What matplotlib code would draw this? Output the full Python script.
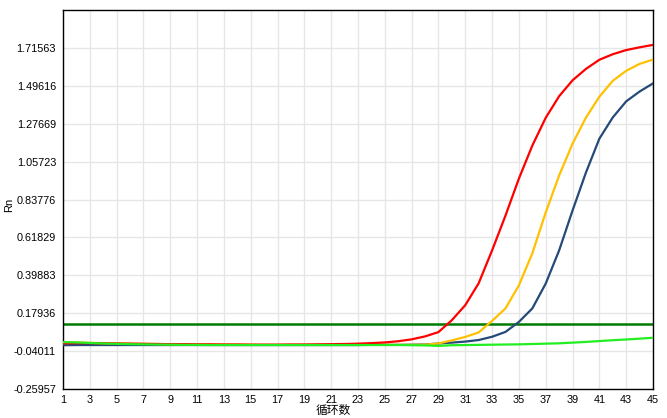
import matplotlib.pyplot as plt
import numpy as np

plt.rcParams['font.family'] = ['Liberation Sans', 'Noto Sans CJK SC', 'DejaVu Sans']

cycles = list(range(1, 46))

red = [0.005, 0.006, 0.006, 0.005, 0.004, 0.003, 0.002, 0.001, 0.000, 0.000,
       -0.001, -0.001, -0.002, -0.002, -0.003, -0.003, -0.003, -0.002, -0.002, -0.001,
       0.000, 0.001, 0.003, 0.006, 0.010, 0.017, 0.028, 0.045, 0.070, 0.139,
       0.226, 0.353, 0.543, 0.745, 0.959, 1.150, 1.311, 1.436, 1.528, 1.594,
       1.647, 1.679, 1.703, 1.719, 1.733]

yellow = [0.012, 0.010, 0.008, 0.006, 0.004, 0.003, 0.002, 0.001, 0.000, -0.001,
          -0.001, -0.002, -0.002, -0.003, -0.003, -0.004, -0.004, -0.004, -0.004, -0.004,
          -0.004, -0.004, -0.004, -0.004, -0.004, -0.004, -0.004, -0.003, 0.004, 0.022,
          0.042, 0.068, 0.135, 0.207, 0.341, 0.526, 0.763, 0.977, 1.161, 1.312,
          1.433, 1.525, 1.583, 1.623, 1.648]

blue = [-0.006, -0.005, -0.005, -0.005, -0.005, -0.005, -0.005, -0.005, -0.005, -0.005,
        -0.005, -0.005, -0.005, -0.005, -0.005, -0.005, -0.005, -0.005, -0.005, -0.005,
        -0.005, -0.005, -0.005, -0.004, -0.004, -0.004, -0.003, -0.002, 0.004, 0.009,
        0.015, 0.024, 0.043, 0.071, 0.129, 0.207, 0.351, 0.543, 0.774, 0.994,
        1.190, 1.313, 1.406, 1.463, 1.510]

green = [0.012, 0.010, 0.007, 0.004, 0.002, 0.000, -0.001, -0.002, -0.003, -0.004,
         -0.004, -0.005, -0.005, -0.005, -0.005, -0.005, -0.005, -0.005, -0.005, -0.005,
         -0.005, -0.005, -0.005, -0.005, -0.005, -0.005, -0.006, -0.007, -0.010, -0.006,
         -0.005, -0.004, -0.003, -0.002, -0.001, 0.001, 0.003, 0.005, 0.009, 0.013,
         0.018, 0.023, 0.027, 0.032, 0.037]

threshold = 0.118

yticks = [-0.25957, -0.04011, 0.17936, 0.39883, 0.61829, 0.83776,
          1.05723, 1.27669, 1.49616, 1.71563]
xticks = list(range(1, 46, 2))

fig = plt.figure(figsize=(6.67, 4.18), dpi=100)
ax = fig.add_axes([63 / 667, 29 / 418, 590 / 667, 379 / 418])

ax.axhline(threshold, color='#007A00', lw=1.8, zorder=2)
ax.plot(cycles, blue, color='#254A78', lw=1.6, zorder=3)
ax.plot(cycles, yellow, color='#FFC000', lw=1.6, zorder=3)
ax.plot(cycles, red, color='#FF0000', lw=1.6, zorder=3)
ax.plot(cycles, green, color='#22EE22', lw=1.6, zorder=3)

ax.set_xlim(1, 45)
ax.set_ylim(-0.25957, 1.9351)
ax.set_xticks(xticks)
ax.set_yticks(yticks)
ax.set_yticklabels([f'{v:.5f}' for v in yticks])
ax.tick_params(length=0, labelsize=7.8, colors='black')
ax.tick_params(axis='y', pad=5)
ax.tick_params(axis='x', pad=4)
ax.grid(True, color='#E6E6E6', lw=1, zorder=0)
ax.set_axisbelow(True)
for s in ax.spines.values():
    s.set_color('black')
    s.set_linewidth(1)

ax.set_ylabel('Rn', fontsize=8)
ax.yaxis.set_label_coords(-0.083, 0.485)
ax.set_xlabel('循环数', fontsize=8.5)
ax.xaxis.set_label_coords(0.458, -0.043)

fig.savefig('out.png', dpi=100)
